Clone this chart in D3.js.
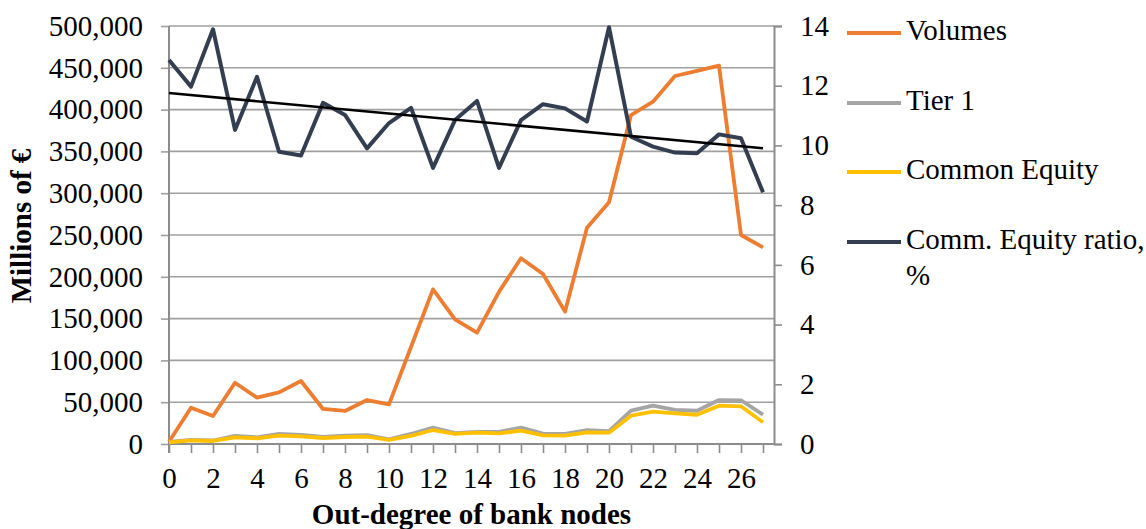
<!DOCTYPE html>
<html>
<head>
<meta charset="utf-8">
<script src="https://cdn.jsdelivr.net/npm/d3@7"></script>
<style>
  html, body { margin: 0; padding: 0; background: #ffffff; }
  svg { display: block; }
  text { font-family: "Liberation Serif", "Times New Roman", serif; fill: #000; }
</style>
</head>
<body>
<svg id="chart" width="1146" height="529"></svg>
<script>
// ---- data ----
const outDegree = d3.range(0, 28);
const volumes = [2800, 43400, 33500, 73300, 55400, 61800, 75400, 41900, 39500, 52600,
                 47400, 116000, 185000, 149200, 133200, 182000, 222100, 203400, 158300, 258700,
                 289100, 393500, 409500, 440200, 446200, 452500, 250000, 235300];
const tier1 = [2500, 5000, 4200, 9800, 8000, 12000, 11000, 8500, 10000, 10500,
               5500, 12000, 19500, 13000, 14500, 14500, 19500, 12500, 12000, 16500,
               15500, 39800, 45800, 40700, 39800, 52600, 52300, 35000];
const commonEquity = [2000, 4400, 3600, 8000, 6800, 10000, 9200, 7200, 8400, 8800,
                      4800, 9600, 16700, 12000, 13500, 12800, 15900, 10400, 10000, 14000,
                      13500, 33900, 38700, 36700, 35000, 45800, 45100, 26000];
const equityRatio = [12.86, 11.97, 13.89, 10.52, 12.30, 9.79, 9.66, 11.43, 11.02, 9.90,
                     10.75, 11.26, 9.25, 10.85, 11.49, 9.25, 10.85, 11.38, 11.24, 10.80,
                     13.96, 10.29, 9.96, 9.76, 9.74, 10.37, 10.24, 8.43];
const leftTicks = d3.range(0, 500001, 50000);
const rightTicks = d3.range(0, 15, 2);
const seriesNames = ["Volumes", "Tier 1", "Common Equity", "Comm. Equity ratio,|%"];
const seriesColors = ["#ED7D31", "#A5A5A5", "#FFC000", "#333F50"];

// ---- layout ----
const svg = d3.select("#chart");
const pL = 169, pR = 774, pT = 26, pB = 444;
const x = d3.scaleLinear().domain([0, 27.5]).range([pL, pR]);
const yL = d3.scaleLinear().domain([0, 500000]).range([pB, pT]);
const yR = d3.scaleLinear().domain([0, 14]).range([pB, pT]);
const fmt = d3.format(",");
const FS = 29;

// left axis (tick labels + short outer ticks)
const gAxL = svg.append("g").attr("transform", `translate(${pL},0)`)
  .call(d3.axisLeft(yL).tickValues(leftTicks).tickFormat(fmt)
        .tickSize(8).tickPadding(18));
gAxL.select(".domain").remove();
gAxL.selectAll(".tick line").attr("stroke", "#A0A0A0").attr("stroke-width", 1.6);
gAxL.selectAll(".tick text").attr("font-size", FS).attr("font-family", "Liberation Serif");

// gridlines
const grid = svg.append("g");
grid.selectAll("line").data(leftTicks).join("line")
  .attr("x1", pL).attr("x2", pR)
  .attr("y1", d => yL(d)).attr("y2", d => yL(d))
  .attr("stroke", "#A0A0A0").attr("stroke-width", 1.6);

// right axis
const gAxR = svg.append("g").attr("transform", `translate(${pR},0)`)
  .call(d3.axisRight(yR).tickValues(rightTicks).tickFormat(d3.format("d"))
        .tickSize(8).tickPadding(18));
gAxR.select(".domain").attr("stroke", "#8C8C8C").attr("stroke-width", 2);
gAxR.selectAll(".tick line").attr("stroke", "#8C8C8C").attr("stroke-width", 1.6);
gAxR.selectAll(".tick text").attr("font-size", FS).attr("font-family", "Liberation Serif");

// bottom axis (tick marks at every category, labels at even)
const gAxB = svg.append("g").attr("transform", `translate(0,${pB})`)
  .call(d3.axisBottom(x).tickValues(outDegree).tickSize(9).tickPadding(14)
        .tickFormat(d => (d % 2 === 0 ? d : "")));
gAxB.select(".domain").attr("stroke", "#8C8C8C").attr("stroke-width", 2)
  .attr("d", `M${pL},0H${pR}`);
gAxB.selectAll(".tick line").attr("stroke", "#8C8C8C").attr("stroke-width", 1.6);
gAxB.selectAll(".tick text").attr("font-size", FS).attr("font-family", "Liberation Serif");

// left axis line
svg.append("line").attr("x1", pL).attr("x2", pL).attr("y1", pT).attr("y2", pB + 9)
  .attr("stroke", "#8C8C8C").attr("stroke-width", 2);

// axis titles
svg.append("text").attr("transform", `translate(24,226) rotate(-90)`)
  .attr("text-anchor", "middle").attr("dominant-baseline", "middle")
  .attr("font-size", FS).attr("font-weight", "bold").text("Millions of €");
svg.append("text").attr("x", (pL + pR) / 2).attr("y", 524)
  .attr("text-anchor", "middle")
  .attr("font-size", FS).attr("font-weight", "bold").text("Out-degree of bank nodes");

// lines
const lineL = d3.line().x((d, i) => x(i)).y(d => yL(d));
const lineR = d3.line().x((d, i) => x(i)).y(d => yR(d));
const plot = svg.append("g");
plot.append("path").datum(volumes).attr("d", lineL).attr("fill", "none")
  .attr("stroke", seriesColors[0]).attr("stroke-width", 3.8).attr("stroke-linejoin", "round");
plot.append("path").datum(tier1).attr("d", lineL).attr("fill", "none")
  .attr("stroke", seriesColors[1]).attr("stroke-width", 3.8).attr("stroke-linejoin", "round");
plot.append("path").datum(commonEquity).attr("d", lineL).attr("fill", "none")
  .attr("stroke", seriesColors[2]).attr("stroke-width", 3.8).attr("stroke-linejoin", "round");
plot.append("path").datum(equityRatio).attr("d", lineR).attr("fill", "none")
  .attr("stroke", seriesColors[3]).attr("stroke-width", 4).attr("stroke-linejoin", "round");

// linear trendline (least squares) on equity ratio
const n = equityRatio.length;
const mx = d3.mean(outDegree), my = d3.mean(equityRatio);
const slope = d3.sum(outDegree, (xi, i) => (xi - mx) * (equityRatio[i] - my)) /
              d3.sum(outDegree, xi => (xi - mx) * (xi - mx));
const icpt = my - slope * mx;
const trend = [0, n - 1].map(xi => [xi, icpt + slope * xi]);
plot.append("path").datum(trend)
  .attr("d", d3.line().x(d => x(d[0])).y(d => yR(d[1])))
  .attr("fill", "none").attr("stroke", "#000").attr("stroke-width", 2.6);

// legend
const legY = [33, 103, 172, 242];
const leg = svg.append("g");
seriesNames.forEach((name, i) => {
  leg.append("line").attr("x1", 847).attr("x2", 901).attr("y1", legY[i]).attr("y2", legY[i])
    .attr("stroke", seriesColors[i]).attr("stroke-width", 3.8);
  const parts = name.split("|");
  parts.forEach((p, j) => {
    leg.append("text").attr("x", 906).attr("y", legY[i] + j * 36)
      .attr("dominant-baseline", "middle").attr("font-size", FS).text(p);
  });
});
</script>
</body>
</html>
